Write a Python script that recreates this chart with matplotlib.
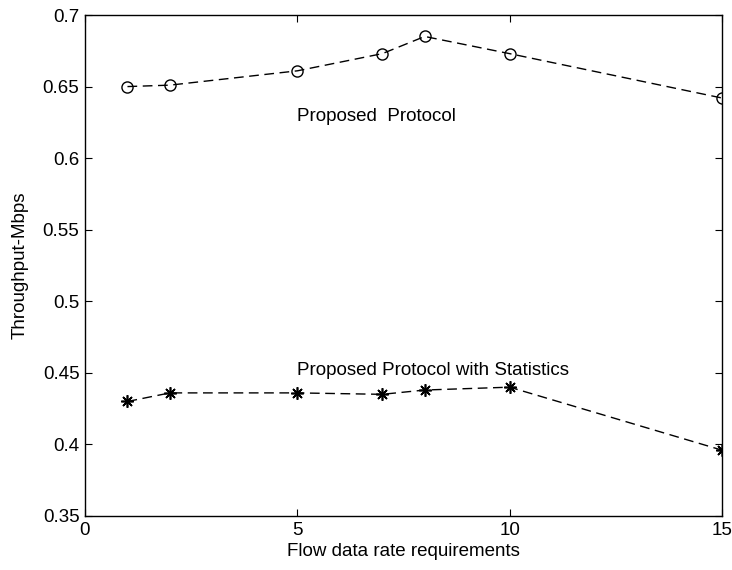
import matplotlib
matplotlib.use("Agg")
import matplotlib.pyplot as plt

# Flow data rate requirement levels
rates = [1, 2, 5, 7, 8, 10, 15]

# Throughput (Mbps) for each protocol variant
proposed = [0.650, 0.651, 0.661, 0.673, 0.685, 0.673, 0.642]
proposed_stats = [0.430, 0.436, 0.436, 0.435, 0.438, 0.440, 0.396]

x_ticks = [0, 5, 10, 15]
y_ticks = [0.35, 0.4, 0.45, 0.5, 0.55, 0.6, 0.65, 0.7]
y_ticklabels = ["0.35", "0.4", "0.45", "0.5", "0.55", "0.6", "0.65", "0.7"]

plt.rcParams["font.family"] = ["Liberation Sans", "DejaVu Sans"]

fig = plt.figure(figsize=(7.32, 5.70), dpi=100)
ax = fig.add_axes([85 / 732, 1 - 516 / 570, (722 - 85) / 732, (516 - 15) / 570])

dash = (0, (7, 4))
ax.plot(rates, proposed, color="black", linestyle=dash, linewidth=1.0,
        marker="o", markersize=8, markerfacecolor="none", markeredgecolor="black",
        markeredgewidth=1.0)
ax.plot(rates, proposed_stats, color="black", linestyle=dash, linewidth=1.0,
        marker=(8, 2, 0), markersize=9, markeredgecolor="black", markeredgewidth=1.2)

ax.text(5.0, 0.629, "Proposed  Protocol", fontsize=13.5, va="center", ha="left")
ax.text(5.0, 0.4515, "Proposed Protocol with Statistics", fontsize=13.5, va="center", ha="left")

ax.set_xlim(0, 15)
ax.set_ylim(0.35, 0.7)
ax.set_xticks(x_ticks)
ax.set_yticks(y_ticks)
ax.set_yticklabels(y_ticklabels)
ax.tick_params(direction="in", length=5, width=0.8, top=True, right=True,
               labelsize=13.5, pad=4)
for s in ax.spines.values():
    s.set_linewidth(1.0)

ax.set_xlabel("Flow data rate requirements", fontsize=13.5, labelpad=3)
ax.set_ylabel("Throughput-Mbps", fontsize=13.5, labelpad=10)

fig.savefig("out.png", dpi=100)
